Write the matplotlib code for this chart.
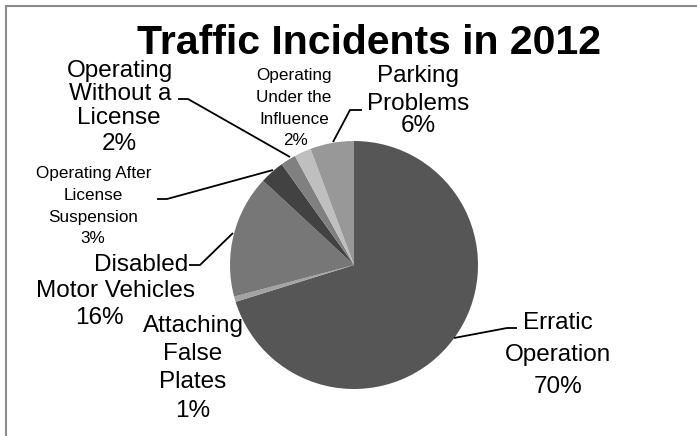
import matplotlib
matplotlib.use("Agg")
import matplotlib.pyplot as plt
from matplotlib.patches import Rectangle

# ---- data ----
categories = [
    "Erratic\nOperation",
    "Attaching\nFalse\nPlates",
    "Disabled\nMotor Vehicles",
    "Operating After\nLicense\nSuspension",
    "Operating\nWithout a\nLicense",
    "Operating\nUnder the\nInfluence",
    "Parking\nProblems",
]
percent_values = [70.2, 0.7, 16.0, 3.2, 2.0, 2.2, 5.7]
colors = ["#565656", "#a3a3a3", "#777777", "#424242", "#808080", "#bfbfbf", "#989898"]
title = "Traffic Incidents in 2012"

# ---- layout (image pixel coords, y from top) ----
W, H = 697, 436
pie_center = (354, 265)
pie_radius = 124
# per label: line x centers, line baselines, fontsize
label_x = [
    [558, 558, 558],
    [193, 193, 193, 193],
    [141, 116, 99],
    [94, 93, 93, 93],
    [120, 120, 119, 119],
    [294, 294, 294, 295],
    [418, 418, 418],
]
label_baselines = [
    [329, 361, 393],
    [332, 360, 388, 417],
    [271, 297, 324],
    [178, 200, 222, 243],
    [77, 100, 124, 150],
    [80, 102, 124, 145],
    [82, 110, 132],
]
label_sizes = [17.5, 17.5, 17.5, 12.3, 17.5, 12.3, 17.5]
# leader lines (polyline points, image coords)
leaders = [
    [(517, 328), (507, 328), (454, 338)],
    None,
    [(189, 265), (200, 265), (233, 233)],
    [(157, 199), (167, 199), (273, 170)],
    [(178, 99), (188, 99), (290, 157)],
    None,
    [(362, 110), (350, 110), (333, 142)],
]

plt.rcParams['font.family'] = ['Liberation Sans', 'DejaVu Sans']

fig = plt.figure(figsize=(W / 100, H / 100), dpi=100)
ax = fig.add_axes([0, 0, 1, 1])

def Y(y):
    return H - y

ax.pie(percent_values, colors=colors, startangle=90, counterclock=False,
       center=(pie_center[0], Y(pie_center[1])), radius=pie_radius,
       wedgeprops=dict(linewidth=0), frame=True)
ax.set_xlim(0, W)
ax.set_ylim(0, H)
ax.set_aspect('equal')
ax.axis('off')

# border
ax.add_patch(Rectangle((5.5, Y(H + 10)), W + 10, (H + 10) - 6, fill=False,
                       edgecolor="#8c8c8c", linewidth=1.5))

total = sum(percent_values)
for cat, val, xs_l, ys_l, fs, lead in zip(categories, percent_values, label_x,
                                          label_baselines, label_sizes, leaders):
    lines = f"{cat}\n{round(val / total * 100):.0f}%".split("\n")
    for line, lx, ly in zip(lines, xs_l, ys_l):
        ax.text(lx, Y(ly), line, ha='center', va='baseline', fontsize=fs, color='black')
    if lead is not None:
        xs = [p[0] for p in lead]
        ys = [Y(p[1]) for p in lead]
        ax.plot(xs, ys, color='black', linewidth=1.3, solid_capstyle='butt')

ax.text(369, Y(54), title, ha='center', va='baseline', fontsize=29.5,
        fontweight='bold', color='black')

fig.savefig("out.png", dpi=100)
